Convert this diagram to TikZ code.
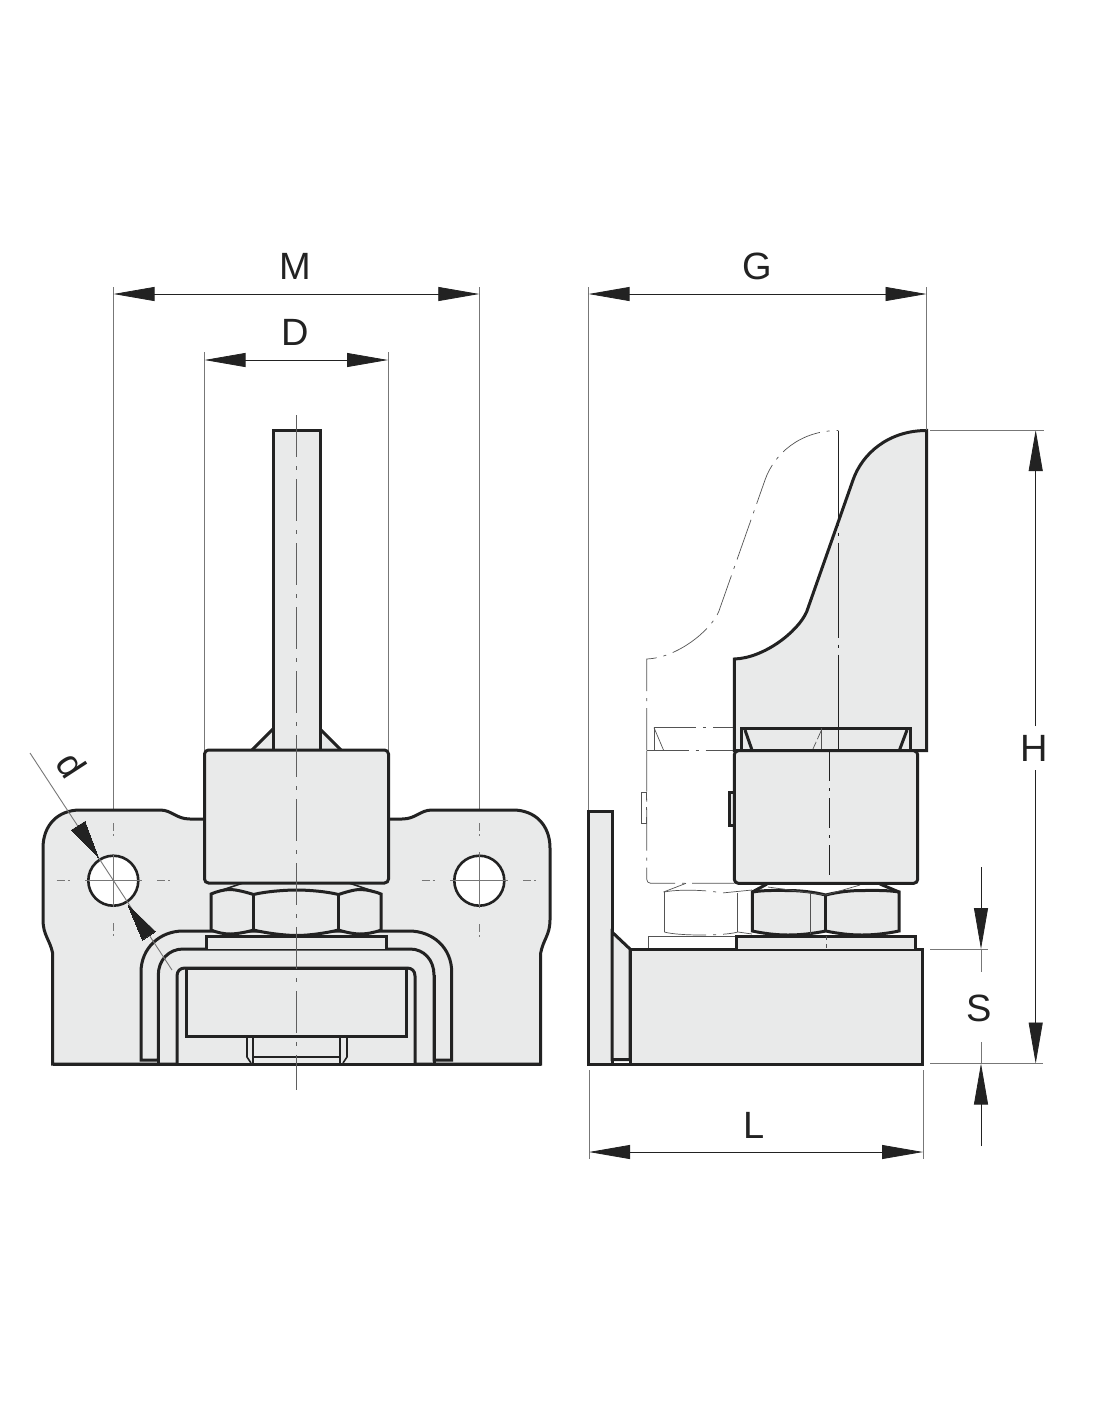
\documentclass[tikz,border=0pt]{standalone}
\usepackage{fontspec}
\setmainfont{Liberation Sans}
\usetikzlibrary{arrows.meta}
\definecolor{partfill}{HTML}{E9EAEA}
\definecolor{ink}{HTML}{222222}
\definecolor{thin}{HTML}{777777}
\tikzset{
  part/.style={draw=ink,line width=3pt,fill=partfill,line join=miter},
  heavy/.style={draw=ink,line width=3pt},
  med/.style={draw=ink,line width=1.6pt},
  dimline/.style={draw=thin,line width=0.9pt},
  centre/.style={draw=thin!80!black,line width=0.9pt,dash pattern=on 42pt off 9pt on 4pt off 9pt},
  holeaxis/.style={draw=thin,line width=1pt},
  holedash/.style={draw=thin,line width=1pt,dash pattern=on 8pt off 3pt on 2pt off 3pt},
  ghost/.style={draw=thin!70!black,line width=0.7pt,dash pattern=on 42pt off 7pt on 3pt off 7pt},
  ghostsolid/.style={draw=thin!70!black,line width=0.7pt},
  dim/.style={draw=ink,line width=0.8pt,{Triangle[length=41pt,width=14pt,color=ink]}-{Triangle[length=41pt,width=14pt,color=ink]}},
  oneend/.style={draw=ink,line width=0.8pt,-{Triangle[length=41pt,width=14pt,color=ink]}},
  lab/.style={text=ink,font=\fontsize{38}{40}\selectfont,inner sep=0pt}
}
\begin{document}
\begin{tikzpicture}[x=1pt,y=-1pt]
\useasboundingbox (0,0) rectangle (1100,1422);
\fill[white] (0,0) rectangle (1100,1422);

% ---------- Front view ----------
% extension lines
\draw[dimline] (113.5,287) -- (113.5,810);
\draw[dimline] (479.3,287) -- (479.3,810);
\draw[dimline] (204.5,352) -- (204.5,750);
\draw[dimline] (388,352) -- (388,750);

% base plate
\path[part] (52.6,1064) -- (52.6,953) .. controls (50,940) and (43,935) .. (43,920)
  -- (43,848) .. controls (43,825) and (58,810) .. (80,810)
  -- (160,810) .. controls (172,810) and (176,819) .. (190,819) -- (402,819)
  .. controls (416,819) and (420,810) .. (432,810)
  -- (513,810) .. controls (535,810) and (550,825) .. (550,848)
  -- (550,920) .. controls (550,935) and (543,940) .. (540.7,953) -- (540.7,1064) -- cycle;

% holes
\node[circle,draw=ink,line width=2.6pt,fill=white,minimum size=50pt,inner sep=0pt] (holeL) at (113.3,880.7) {};
\node[circle,draw=ink,line width=2.6pt,fill=white,minimum size=50pt,inner sep=0pt] (holeR) at (479.3,880.7) {};
\draw[holeaxis] (85,880.7) -- (141.7,880.7);
\draw[holeaxis] (113.3,855) -- (113.3,907);
\draw[holeaxis] (450,880.7) -- (508,880.7);
\draw[holeaxis] (479.3,852) -- (479.3,908);
\draw[holedash] (56.7,880.7) -- (70.5,880.7);
\draw[holedash] (157,880.7) -- (172,880.7);
\draw[holedash] (421.7,880.7) -- (436.7,880.7);
\draw[holedash] (523,880.7) -- (537,880.7);
\draw[holedash] (113.3,823) -- (113.3,837);
\draw[holedash] (113.3,923) -- (113.3,938);
\draw[holedash] (479.3,823) -- (479.3,837);
\draw[holedash] (479.3,924) -- (479.3,938);

% outer U bracket
\path[part] (141,1060) -- (141,972) .. controls (141,948) and (160,931) .. (183,931)
  -- (409,931) .. controls (433,931) and (451.7,948) .. (451.7,972) -- (451.7,1060) -- (434,1060)
  -- (434,975) .. controls (434,960) and (424,949) .. (410,949)
  -- (183,949) .. controls (169,949) and (158.3,960) .. (158.3,975) -- (158.3,1060) -- cycle;
\draw[heavy] (158.3,975) -- (158.3,1064);
\draw[heavy] (434,975) -- (434,1064);
% inner channel
\path[part] (177,1064) -- (177,976) .. controls (177,971) and (180,968) .. (185,968)
  -- (407,968) .. controls (412,968) and (415,971) .. (415,976) -- (415,1064);
\draw[heavy] (52.6,1064) -- (540.7,1064);
% block
\path[part] (186.7,968) rectangle (406,1036);
% bolt end
\draw[med] (247,1036) -- (247,1057) -- (251,1063);
\draw[med] (253,1036) -- (253,1063);
\draw[med] (347,1036) -- (347,1057) -- (343,1063);
\draw[med] (340,1036) -- (340,1063);
\draw[med] (253,1057) -- (340,1057);

% washer
\path[part] (206.7,949) -- (206.7,936) -- (386,936) -- (386,949);

% gussets and stem
\draw[heavy,fill=partfill] (252,750) -- (273,729) -- (320,729) -- (341,750);
\path[part] (273.5,750) -- (273.5,430.5) -- (320,430.5) -- (320,750);

% hex nut
\path[part] (211,894) .. controls +(6,-2.5) and +(-6,0) .. (230,889.5)
  .. controls +(6,0) and +(-6,-2) .. (253.5,894.5)
  .. controls +(12,-3) and +(-12,0) .. (296.7,890)
  .. controls +(12,0) and +(-12,-3) .. (338.5,894.5)
  .. controls +(6,-2) and +(-6,0) .. (360,889.5)
  .. controls +(6,0) and +(-6,-2.5) .. (381,894)
  -- (381,930) .. controls +(-6,2.5) and +(6,0) .. (360,934)
  .. controls +(-6,0) and +(6,2) .. (338.5,930)
  .. controls +(-12,3) and +(12,0) .. (296.7,935.5)
  .. controls +(-12,0) and +(12,3) .. (253.5,930)
  .. controls +(-6,2) and +(6,0) .. (230,934)
  .. controls +(-6,0) and +(6,2.5) .. (211,930) -- cycle;
\draw[heavy] (253.5,894.5) -- (253.5,930);
\draw[heavy] (338.5,894.5) -- (338.5,930);
\draw[med] (213,893) -- (243,883);
\draw[med] (379,893) -- (349,883);

% clamp body
\path[part,rounded corners=4pt] (204.5,750) rectangle (388.5,883);

% centre line
\draw[centre] (296.5,415) -- (296.5,1090);
% d dimension line over hole
\coordinate (dA) at (30,753);
\coordinate (dB) at (172,970);
\draw[dimline] (dA) -- (dB);

% ---------- Side view: phantom position ----------
\draw[dimline] (588.6,287) -- (588.6,810);
\draw[dimline] (926.5,287) -- (926.5,430);
\path[ghost] (646.7,750) -- (646.7,659) .. controls (676,658) and (709.7,632) .. (718.7,611.7)
  -- (765,480) .. controls (774,454) and (800,430.5) .. (838.3,430.5);
\draw[ghost] (646.7,750) -- (734,750);
\draw[ghost] (654,727.7) -- (734,727.7);
\draw[ghostsolid] (654,727.7) -- (663.5,750);
\draw[ghost] (654,727.7) -- (654,750);
\draw[ghost,rounded corners=4pt] (734,883.3) -- (646.7,883.3) -- (646.7,750.7);
\draw[ghost] (641.7,792) rectangle (646.7,823);
\draw[ghost] (664.3,892) .. controls +(14,-3) and +(-14,-3) .. (722,893) -- (752,890);
\draw[ghost] (664.3,892) -- (664.3,932);
\draw[ghost] (664.3,932) .. controls +(14,4) and +(-14,4) .. (738,932) -- (752,934);
\draw[ghost] (737.7,893) -- (737.7,932);
\draw[ghost] (663.5,892) -- (686,883.3);
\draw[ghostsolid] (648.3,949) -- (648.3,936) -- (737,936);

% ---------- Side view: solid ----------
% upright plate
\path[part] (588.5,1064) -- (588.5,811) -- (612,811) -- (612,1064) -- cycle;
% gusset
\path[part] (612,932) -- (630,949) -- (630,1059.5) -- (612,1059.5) -- cycle;
% base block
\path[part] (630,949) rectangle (922.7,1064);
\draw[heavy] (588.5,1064) -- (630,1064);

% washer
\path[part] (736.7,949) -- (736.7,936) -- (915,936) -- (915,949);
\draw[ghostsolid,dash pattern=on 4pt off 4pt] (826.5,936) -- (826.5,949);

% nuts
\path[part] (752.3,892) .. controls +(12,-2) and +(-12,0) .. (788,890.5)
  .. controls +(12,0) and +(-12,-3) .. (825.7,895)
  .. controls +(12,-3) and +(-12,0) .. (862,890.5)
  .. controls +(12,0) and +(-12,-2) .. (899,892)
  -- (899,931) .. controls +(-12,2.5) and +(12,0) .. (862,935)
  .. controls +(-12,0) and +(12,2.5) .. (825.7,931)
  .. controls +(-12,2.5) and +(12,0) .. (788,935)
  .. controls +(-12,0) and +(12,2.5) .. (752.3,931) -- cycle;
\draw[heavy] (825.7,895) -- (825.7,931);
\draw[heavy] (752.3,892) -- (767,884);
\draw[heavy] (899,892) -- (880,884);
\draw[ghostsolid] (768,887) -- (825.7,895) -- (860,885);
\draw[ghostsolid] (810.7,893) -- (810.7,934);

% lever
\path[part] (734.3,750.5) -- (734.3,659) .. controls (764,658) and (797.7,632) .. (806.7,611.7)
  -- (853,480) .. controls (862,454) and (888,430.5) .. (926.7,430.5)
  -- (926.7,750.5) -- cycle;
% countersink
\path[part] (741.7,750) -- (741.7,728) -- (910,728) -- (910,750);
\draw[heavy] (745,730) -- (752,750);
\draw[heavy] (907,730) -- (899.5,750);
\draw[ghostsolid] (821.5,728) -- (821.5,750);
\draw[ghostsolid,dash pattern=on 10pt off 3pt] (821.5,730) -- (812.5,750);
\draw[ink,line width=0.8pt,dash pattern=on 95pt off 7pt on 3pt off 7pt] (838.3,430.5) -- (838.3,750);

% clamp body
\path[part] (729.5,792) rectangle (734.5,825);
\path[part,rounded corners=4pt] (734.3,750.7) rectangle (917.7,883.3);
\draw[ink,line width=0.8pt,dash pattern=on 30pt off 7pt on 3pt off 7pt] (829.3,751) -- (829.3,883);

% ---------- Dimensions ----------
\coordinate (mL) at (113.5,294); \coordinate (mR) at (479.3,294);
\coordinate (dL) at (204.5,360); \coordinate (dR) at (388,360);
\coordinate (gL) at (588.6,294); \coordinate (gR) at (926.5,294);
\coordinate (lL) at (589,1152);  \coordinate (lR) at (923,1152);
\coordinate (hT) at (1035.7,430); \coordinate (hB) at (1035.7,1063.5);
\coordinate (hM1) at (1035.7,726); \coordinate (hM2) at (1035.7,770);
\draw[dim] (mL) -- (mR);
\draw[dim] (dL) -- (dR);
\draw[dim] (gL) -- (gR);
\draw[dim] (lL) -- (lR);
\draw[oneend] (hM1) -- (hT);
\draw[oneend] (hM2) -- (hB);
\draw[dimline] (930,430) -- (1044,430);
\draw[dimline] (930,949) -- (988,949);
\draw[dimline] (930,1063.5) -- (1043,1063.5);
\draw[dimline] (589,1070) -- (589,1159);
\draw[dimline] (923,1070) -- (923,1159);
\draw[dimline] (926.5,430) -- (926.5,415);
% S
\coordinate (sTa) at (981,867); \coordinate (sT) at (981,949);
\coordinate (sBa) at (981,1146); \coordinate (sB) at (981,1063.5);
\draw[oneend] (sTa) -- (sT);
\draw[oneend] (sBa) -- (sB);
\draw[dimline] (981,949) -- (981,972);
\draw[dimline] (981,1042) -- (981,1063.5);
% d arrows
\coordinate (dh1) at (98.5,857.5);
\coordinate (dh2) at (128,905);
\draw[ink,line width=0pt,fill=ink] (dh1) -- (71.5,830) -- (85,821.5) -- cycle;
\draw[ink,line width=0pt,fill=ink] (dh2) -- (155.5,931.5) -- (142.5,940) -- cycle;

% labels
\node[lab] (labM) at (295,266) {M};
\node[lab] (labD) at (295,332) {D};
\node[lab] (labG) at (757,266) {G};
\node[lab] (labL) at (754,1125) {L};
\node[lab] (labH) at (1034,748) {H};
\node[lab] (labS) at (979,1008) {S};
\node[lab,rotate=-57] (labd) at (72,765) {d};
\end{tikzpicture}
\end{document}
